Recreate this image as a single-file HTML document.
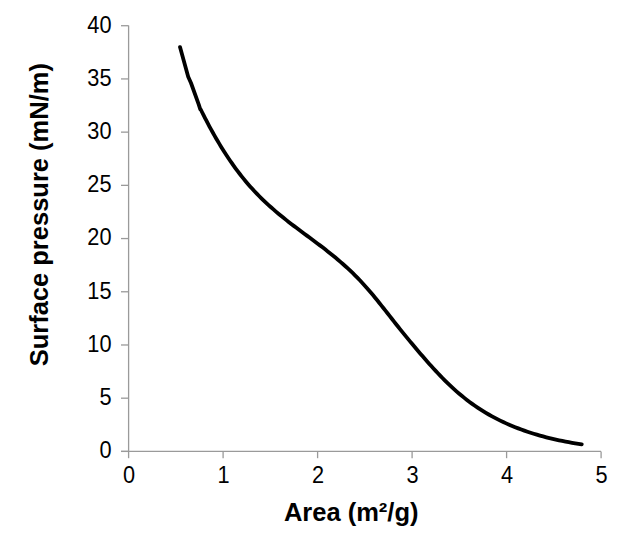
<!DOCTYPE html>
<html><head><meta charset="utf-8"><style>
html,body{margin:0;padding:0;background:#fff;}
svg{display:block;}
.t{font-family:"Liberation Sans",sans-serif;font-size:23px;fill:#000;}
.b{font-family:"Liberation Sans",sans-serif;font-size:25.5px;font-weight:bold;fill:#000;}
</style></head><body>
<svg width="624" height="536" viewBox="0 0 624 536">
<line x1="128.6" y1="25.6" x2="128.6" y2="451.4" stroke="#9a9a9a" stroke-width="1.3"/>
<line x1="121" y1="451.4" x2="601" y2="451.4" stroke="#9a9a9a" stroke-width="1.3"/>
<line x1="121" y1="451.4" x2="128.6" y2="451.4" stroke="#9a9a9a" stroke-width="1.3"/>
<text transform="translate(111.5,458.20) scale(0.945,1)" text-anchor="end" class="t">0</text>
<line x1="121" y1="398.19" x2="128.6" y2="398.19" stroke="#9a9a9a" stroke-width="1.3"/>
<text transform="translate(111.5,404.99) scale(0.945,1)" text-anchor="end" class="t">5</text>
<line x1="121" y1="344.97999999999996" x2="128.6" y2="344.97999999999996" stroke="#9a9a9a" stroke-width="1.3"/>
<text transform="translate(111.5,351.78) scale(0.945,1)" text-anchor="end" class="t">10</text>
<line x1="121" y1="291.77" x2="128.6" y2="291.77" stroke="#9a9a9a" stroke-width="1.3"/>
<text transform="translate(111.5,298.57) scale(0.945,1)" text-anchor="end" class="t">15</text>
<line x1="121" y1="238.55999999999997" x2="128.6" y2="238.55999999999997" stroke="#9a9a9a" stroke-width="1.3"/>
<text transform="translate(111.5,245.36) scale(0.945,1)" text-anchor="end" class="t">20</text>
<line x1="121" y1="185.34999999999997" x2="128.6" y2="185.34999999999997" stroke="#9a9a9a" stroke-width="1.3"/>
<text transform="translate(111.5,192.15) scale(0.945,1)" text-anchor="end" class="t">25</text>
<line x1="121" y1="132.14" x2="128.6" y2="132.14" stroke="#9a9a9a" stroke-width="1.3"/>
<text transform="translate(111.5,138.94) scale(0.945,1)" text-anchor="end" class="t">30</text>
<line x1="121" y1="78.92999999999995" x2="128.6" y2="78.92999999999995" stroke="#9a9a9a" stroke-width="1.3"/>
<text transform="translate(111.5,85.73) scale(0.945,1)" text-anchor="end" class="t">35</text>
<line x1="121" y1="25.71999999999997" x2="128.6" y2="25.71999999999997" stroke="#9a9a9a" stroke-width="1.3"/>
<text transform="translate(111.5,32.52) scale(0.945,1)" text-anchor="end" class="t">40</text>
<line x1="128.6" y1="451.4" x2="128.6" y2="458.2" stroke="#9a9a9a" stroke-width="1.3"/>
<text transform="translate(129.1,482.6) scale(0.945,1)" text-anchor="middle" class="t">0</text>
<line x1="223.1" y1="451.4" x2="223.1" y2="458.2" stroke="#9a9a9a" stroke-width="1.3"/>
<text transform="translate(223.6,482.6) scale(0.945,1)" text-anchor="middle" class="t">1</text>
<line x1="317.6" y1="451.4" x2="317.6" y2="458.2" stroke="#9a9a9a" stroke-width="1.3"/>
<text transform="translate(318.1,482.6) scale(0.945,1)" text-anchor="middle" class="t">2</text>
<line x1="412.1" y1="451.4" x2="412.1" y2="458.2" stroke="#9a9a9a" stroke-width="1.3"/>
<text transform="translate(412.6,482.6) scale(0.945,1)" text-anchor="middle" class="t">3</text>
<line x1="506.6" y1="451.4" x2="506.6" y2="458.2" stroke="#9a9a9a" stroke-width="1.3"/>
<text transform="translate(507.1,482.6) scale(0.945,1)" text-anchor="middle" class="t">4</text>
<line x1="601.1" y1="451.4" x2="601.1" y2="458.2" stroke="#9a9a9a" stroke-width="1.3"/>
<text transform="translate(601.6,482.6) scale(0.945,1)" text-anchor="middle" class="t">5</text>
<path d="M180.00,47.10 L188.20,76.70 L191.00,83.00 L198.70,104.40 L200.30,109.40 L200.65,109.33 L202.10,112.25 L203.56,115.16 L205.05,118.07 L206.55,120.98 L208.08,123.87 L209.62,126.77 L211.18,129.65 L212.77,132.52 L214.38,135.39 L216.01,138.24 L217.67,141.08 L219.35,143.90 L221.05,146.71 L222.79,149.51 L224.54,152.28 L226.33,155.04 L228.14,157.78 L229.98,160.50 L231.85,163.20 L233.75,165.87 L235.68,168.53 L237.64,171.16 L239.63,173.76 L241.65,176.34 L243.71,178.90 L245.80,181.42 L247.92,183.92 L250.08,186.39 L252.27,188.83 L254.50,191.24 L256.77,193.62 L259.07,195.97 L261.39,198.29 L263.75,200.58 L266.14,202.84 L268.56,205.07 L270.99,207.27 L273.46,209.45 L275.94,211.59 L278.45,213.70 L280.97,215.79 L283.51,217.84 L286.07,219.88 L288.64,221.89 L291.22,223.89 L293.81,225.87 L296.41,227.84 L299.02,229.79 L301.64,231.74 L304.25,233.68 L306.87,235.62 L309.50,237.56 L312.12,239.50 L314.74,241.45 L317.35,243.40 L319.96,245.37 L322.56,247.35 L325.15,249.35 L327.74,251.38 L330.31,253.42 L332.86,255.49 L335.41,257.58 L337.93,259.70 L340.44,261.84 L342.92,264.01 L345.39,266.21 L347.83,268.43 L350.24,270.69 L352.63,272.98 L354.99,275.30 L357.33,277.66 L359.63,280.05 L361.91,282.48 L364.16,284.94 L366.40,287.43 L368.60,289.95 L370.79,292.50 L372.96,295.08 L375.11,297.68 L377.25,300.30 L379.36,302.94 L381.47,305.58 L383.56,308.23 L385.64,310.88 L387.71,313.52 L389.78,316.16 L391.83,318.78 L393.88,321.39 L395.92,323.97 L397.96,326.55 L400.00,329.10 L402.04,331.63 L404.08,334.15 L406.12,336.65 L408.17,339.14 L410.22,341.61 L412.27,344.08 L414.34,346.54 L416.41,348.99 L418.49,351.45 L420.58,353.89 L422.69,356.34 L424.81,358.78 L426.95,361.22 L429.10,363.65 L431.27,366.07 L433.46,368.48 L435.67,370.88 L437.91,373.27 L440.17,375.64 L442.45,377.99 L444.76,380.32 L447.09,382.62 L449.46,384.90 L451.85,387.15 L454.28,389.36 L456.74,391.55 L459.24,393.70 L461.76,395.81 L464.32,397.88 L466.92,399.91 L469.54,401.90 L472.20,403.85 L474.88,405.75 L477.60,407.60 L480.34,409.40 L483.11,411.15 L485.90,412.85 L488.73,414.50 L491.58,416.10 L494.45,417.65 L497.34,419.15 L500.26,420.61 L503.21,422.02 L506.17,423.38 L509.15,424.70 L512.16,425.97 L515.18,427.20 L518.22,428.39 L521.28,429.53 L524.35,430.64 L527.45,431.70 L530.55,432.73 L533.68,433.71 L536.81,434.66 L539.96,435.57 L543.12,436.45 L546.29,437.29 L549.48,438.09 L552.67,438.86 L555.87,439.59 L559.08,440.29 L562.30,440.96 L565.53,441.60 L568.76,442.20 L572.00,442.77 L575.24,443.31 L578.48,443.81 L581.73,444.29" fill="none" stroke="#000" stroke-width="3.8" stroke-linejoin="round" stroke-linecap="round"/>
<text x="351.2" y="520.8" text-anchor="middle" class="b">Area (m²/g)</text>
<text transform="translate(48,214.7) rotate(-90)" text-anchor="middle" class="b">Surface pressure (mN/m)</text>
</svg></body></html>
